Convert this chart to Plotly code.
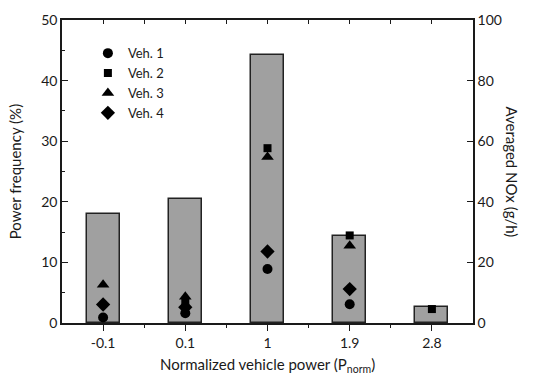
import plotly.graph_objects as go

categories = ["-0.1", "0.1", "1", "1.9", "2.8"]
power_freq = [18.0, 20.5, 44.2, 14.3, 2.6]
veh1 = [1.8, 3.2, 17.8, 6.2, None]
veh2 = [None, 6.8, 57.7, 28.9, 4.6]
veh3 = [12.6, 8.7, 54.8, 25.5, None]
veh4 = [6.1, 5.2, 23.6, 11.2, None]

FONT = "Lato"
xpos = list(range(len(categories)))

fig = go.Figure()
fig.add_trace(go.Bar(x=xpos, y=power_freq, width=0.4,
                     marker=dict(color="#a0a0a0", line=dict(color="#222222", width=1.5)),
                     showlegend=False, yaxis="y"))
for name, vals, sym, sz in [("Veh. 1", veh1, "circle", 10),
                            ("Veh. 2", veh2, "square", 8),
                            ("Veh. 3", veh3, "triangle-up", 11),
                            ("Veh. 4", veh4, "diamond", 11)]:
    fig.add_trace(go.Scatter(x=xpos, y=vals, mode="markers", name=name,
                             marker=dict(symbol=sym, size=sz, color="black"),
                             yaxis="y2"))

fig.update_layout(
    width=533, height=380,
    margin=dict(l=62, r=60, t=20, b=57),
    plot_bgcolor="white", paper_bgcolor="white",
    font=dict(family=FONT, size=14, color="#1a1a1a"),
    bargap=0,
    xaxis=dict(range=[-0.5, 4.5], tickmode="array", tickvals=xpos, ticktext=categories,
               showline=True, linecolor="#1a1a1a", linewidth=1.5,
               ticks="outside", ticklen=6, tickwidth=1.2, tickcolor="#1a1a1a",
               minor=dict(tickmode="array", tickvals=[0.5, 1.5, 2.5, 3.5], ticks="outside",
                          ticklen=3, tickwidth=1.2, tickcolor="#1a1a1a"),
               showgrid=False, zeroline=False, tickfont=dict(size=14)),
    xaxis2=dict(range=[-0.5, 4.5], overlaying="x", side="top", anchor="y",
                showline=True, linecolor="#1a1a1a", linewidth=1.5,
                ticks="inside", ticklen=4, tickwidth=1.2, tickcolor="#1a1a1a",
                tickmode="linear", tick0=-0.5, dtick=0.5, showticklabels=False,
                showgrid=False, zeroline=False),
    yaxis=dict(range=[0, 50], tickmode="linear", tick0=0, dtick=10,
               showline=True, linecolor="#1a1a1a", linewidth=1.5,
               ticks="inside", ticklen=6, tickwidth=1.2, tickcolor="#1a1a1a",
               minor=dict(ticks="inside", ticklen=3, dtick=5, tickwidth=1.2, tickcolor="#1a1a1a"),
               showgrid=False, zeroline=False, tickfont=dict(size=14)),
    yaxis2=dict(range=[0, 100], tickmode="linear", tick0=0, dtick=20, overlaying="y", side="right",
                showline=True, linecolor="#1a1a1a", linewidth=1.5,
                ticks="inside", ticklen=6, tickwidth=1.2, tickcolor="#1a1a1a",
                showgrid=False, zeroline=False, tickfont=dict(size=14)),
    legend=dict(x=0.063, y=0.94, xanchor="left", yanchor="top", bgcolor="rgba(0,0,0,0)",
                font=dict(size=13), tracegroupgap=0),
    showlegend=True,
)
fig.add_trace(go.Scatter(x=[None], y=[None], xaxis="x2", showlegend=False))

fig.add_annotation(text="Power frequency (%)", textangle=-90, xref="paper", yref="paper",
                   x=-0.115, y=0.5, xanchor="center", yanchor="middle", showarrow=False,
                   font=dict(size=15))
fig.add_annotation(text="Averaged NOx (g/h)", textangle=90, xref="paper", yref="paper",
                   x=1.095, y=0.5, xanchor="center", yanchor="middle", showarrow=False,
                   font=dict(size=15))
fig.add_annotation(text="Normalized vehicle power (P<sub>norm</sub>)", xref="paper", yref="paper",
                   x=0.5, y=-0.14, xanchor="center", yanchor="middle", showarrow=False,
                   font=dict(size=15))

fig.write_html("out.html", config={"displayModeBar": False},
               post_script="document.body.style.margin='0';document.body.style.padding='0';")
